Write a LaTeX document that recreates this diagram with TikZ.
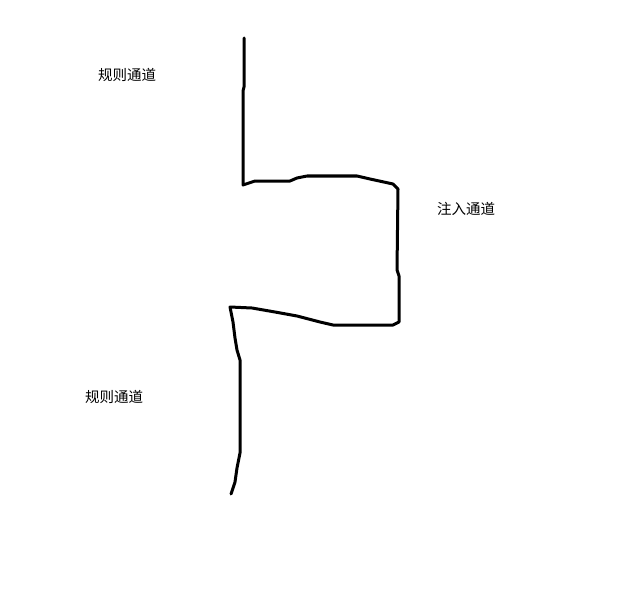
\documentclass[tikz,border=0pt]{standalone}
\usepackage{fontspec}
\newfontfamily\cjk{Noto Sans CJK SC}
\usetikzlibrary{positioning}

\begin{document}
\begin{tikzpicture}[x=1bp,y=-1bp,
        pen line/.style={line width=3bp,line cap=round,line join=round},
        label node/.style={inner sep=0pt,font=\cjk\fontsize{14.5bp}{16bp}\selectfont}]

      \useasboundingbox (0,0) rectangle (627,596);

      \node[label node] (regular1) at (127,75) {规则通道};
      \node[label node] (inject) at (466,209) {注入通道};
      \node[label node] (regular2) at (114,397) {规则通道};

      \draw[pen line] (244,38) -- (244,87) -- (243,91) -- (243,185)
      -- (255,181) -- (290,181) -- (297,178) -- (307,176) -- (357,176)
      -- (370,179) -- (393,184) -- (398,189) -- (397,270) -- (399,276)
      -- (399,322) -- (393,325) -- (333,325) -- (320,322) -- (297,316)
      -- (275,312) -- (252,308) -- (230,307) -- (233,322) -- (235,338)
      -- (237,350) -- (240,360) -- (240,453) -- (237,468) -- (235,482)
      -- (231,494);
\end{tikzpicture}
\end{document}
